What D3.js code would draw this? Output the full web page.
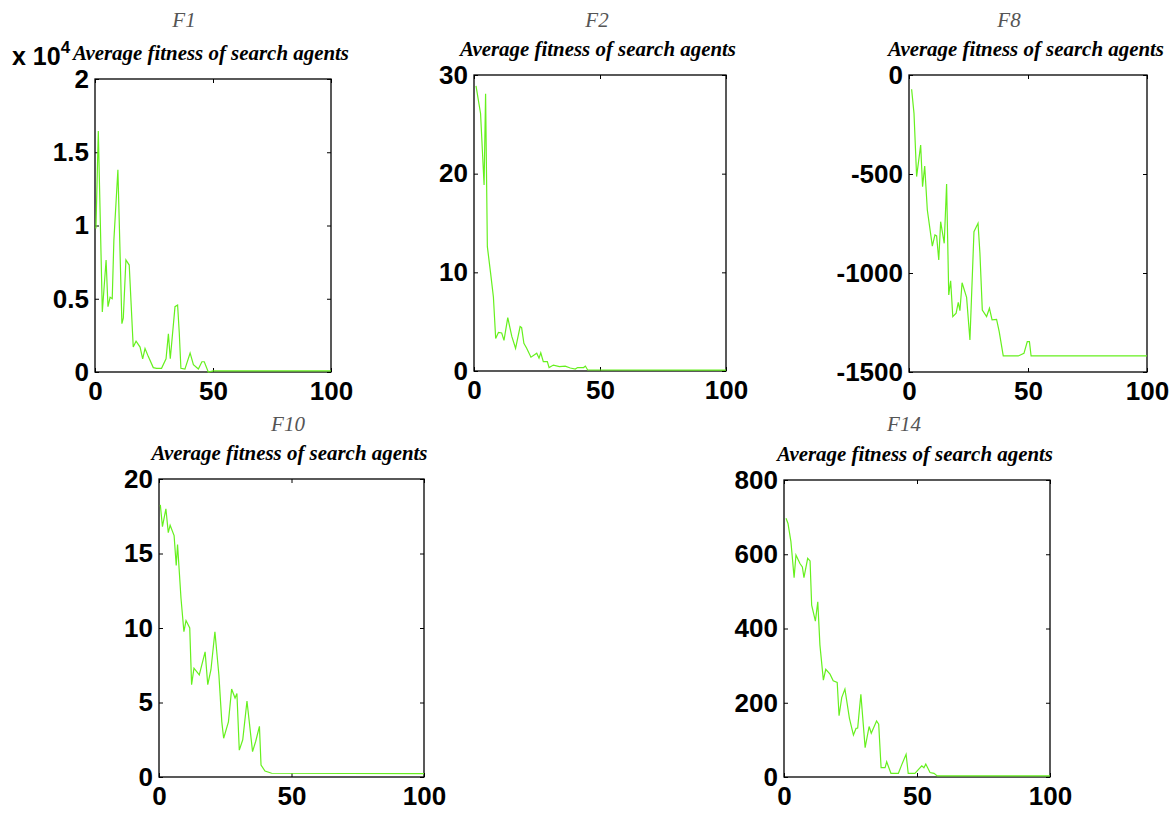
<!DOCTYPE html>
<html>
<head>
<meta charset="utf-8">
<script src="https://cdn.jsdelivr.net/npm/d3@7"></script>
<style>
  body { margin: 0; background: #fff; }
  .tick text { font-family: "Liberation Sans", Arial, sans-serif; font-weight: bold; font-size: 26px; fill: #000; }
  .tick line { stroke: #000; }
</style>
</head>
<body>
<div id="chart-area"></div>
<script>
// iterations / average fitness
const f1Iter = [0.4, 1.4, 3.1, 4.7, 5.5, 6.4, 7.3, 8.0, 9.7, 11.4, 12.0, 13.1, 14.5, 16.2, 17.4, 19.1, 20.2, 21.2, 22.6, 24.7, 26.1, 28.2, 30.1, 31.1, 31.9, 33.9, 35.0, 35.7, 36.4, 38.1, 40.3, 41.7, 43.8, 45.3, 46.3, 48.0, 50, 100]
const f1Fit = [0.98, 1.645, 0.41, 0.765, 0.446, 0.51, 0.50, 0.90, 1.38, 0.33, 0.37, 0.765, 0.73, 0.17, 0.21, 0.17, 0.09, 0.16, 0.105, 0.03, 0.025, 0.025, 0.09, 0.26, 0.09, 0.446, 0.457, 0.27, 0.025, 0.02, 0.13, 0.05, 0.02, 0.07, 0.07, 0.0, 0.008, 0.008]

const f2Iter = [0.8, 2.6, 4.0, 4.6, 5.3, 6.6, 7.7, 8.6, 9.7, 11.0, 11.9, 13.4, 15.0, 16.5, 18.3, 18.9, 19.8, 20.9, 22.6, 24.9, 25.8, 26.5, 27.5, 29.1, 29.8, 31.5, 33.9, 36.2, 38.2, 40.2, 41.1, 43.5, 44.2, 45.1, 100]
const f2Fit = [28.9, 26.1, 18.85, 28.1, 12.6, 9.9, 7.5, 3.3, 3.9, 3.85, 3.1, 5.4, 3.5, 2.3, 4.5, 4.4, 2.8, 2.3, 1.4, 1.8, 1.3, 1.85, 0.95, 0.95, 0.35, 0.6, 0.45, 0.5, 0.3, 0.2, 0.35, 0.35, 0.5, 0.1, 0.08]

const f8Iter = [1.1, 2.1, 3.2, 4.9, 5.7, 6.6, 7.7, 9.8, 10.9, 11.6, 12.5, 13.3, 14.8, 15.8, 16.7, 17.5, 18.4, 19.8, 20.7, 21.4, 22.3, 24.2, 25.6, 27.3, 29.0, 29.8, 30.8, 32.6, 33.8, 34.9, 36.8, 37.9, 39.6, 45.9, 48.3, 49.7, 50.6, 51.3, 100]
const f8Fit = [-72, -194, -513, -354, -564, -460, -682, -864, -808, -813, -934, -741, -850, -551, -1111, -1039, -1220, -1203, -1148, -1190, -1049, -1123, -1338, -791, -749, -900, -1187, -1220, -1178, -1237, -1234, -1296, -1419, -1419, -1406, -1347, -1347, -1419, -1419]

const f10Iter = [0.5, 1.3, 2.6, 3.5, 4.2, 5.7, 6.5, 7.0, 8.3, 9.4, 10.2, 11.6, 12.3, 13.2, 15.2, 17.4, 18.4, 19.6, 21.1, 22.6, 23.7, 24.4, 26.2, 27.4, 28.7, 29.4, 30.3, 31.6, 33.2, 35.3, 36.5, 37.9, 38.5, 40, 42.5, 100]
const f10Fit = [18.26, 16.8, 18.0, 16.4, 16.9, 16.2, 14.2, 15.6, 12.0, 9.75, 10.5, 10.0, 6.2, 7.3, 6.85, 8.4, 6.2, 7.2, 9.75, 6.85, 3.7, 2.6, 3.7, 5.9, 5.3, 5.6, 1.8, 2.5, 5.1, 1.7, 2.4, 3.4, 0.8, 0.4, 0.25, 0.22]

const f14Iter = [0.75, 1.5, 2.6, 3.8, 4.5, 6.0, 6.9, 7.5, 8.9, 9.8, 10.4, 11.8, 12.7, 13.5, 14.8, 15.7, 17.3, 18.5, 20.0, 20.7, 21.7, 22.9, 24.6, 26.1, 27.1, 27.7, 28.9, 30.5, 32.0, 32.8, 34.8, 35.6, 36.5, 38.0, 38.6, 40.2, 43.0, 44.2, 45.9, 46.7, 49.2, 51.8, 52.6, 53.3, 54.9, 56.4, 57.6, 100]
const f14Fit = [697, 683, 634, 537, 598, 575, 566, 537, 589, 582, 463, 420, 472, 356, 261, 290, 277, 259, 255, 165, 214, 237, 158, 113, 131, 132, 223, 79, 136, 118, 151, 142, 25, 25, 41, 10, 10, 32, 61, 10, 10, 30, 25, 35, 12, 10, 3, 3]

// tick values
const xTicks = [0, 50, 100]
const f1Ticks = [0, 0.5, 1, 1.5, 2]
const f2Ticks = [0, 10, 20, 30]
const f8Ticks = [-1500, -1000, -500, 0]
const f10Ticks = [0, 5, 10, 15, 20]
const f14Ticks = [0, 200, 400, 600, 800]

const names = ["F1", "F2", "F8", "F10", "F14"]
const subTitle = "Average fitness of search agents"

// panel layout (pixels)
const panels = [
  { name: names[0], iter: f1Iter, fit: f1Fit, ticks: f1Ticks, dom: [0, 2], L: 95, R: 331, T: 79, B: 372, fx: 184, fy: 27 },
  { name: names[1], iter: f2Iter, fit: f2Fit, ticks: f2Ticks, dom: [0, 30], L: 474, R: 726, T: 75, B: 371, fx: 597, fy: 27 },
  { name: names[2], iter: f8Iter, fit: f8Fit, ticks: f8Ticks, dom: [-1500, 0], L: 909, R: 1147, T: 75, B: 372, fx: 1009, fy: 27 },
  { name: names[3], iter: f10Iter, fit: f10Fit, ticks: f10Ticks, dom: [0, 20], L: 159, R: 424, T: 479, B: 777, fx: 288, fy: 431 },
  { name: names[4], iter: f14Iter, fit: f14Fit, ticks: f14Ticks, dom: [0, 800], L: 784, R: 1050, T: 480, B: 777, fx: 904, fy: 431 }
]

const svg = d3.select("#chart-area").append("svg")
  .attr("width", 1174)
  .attr("height", 814)

svg.append("rect")
  .attr("width", 1174)
  .attr("height", 814)
  .attr("fill", "#fff")

const TICK = 4

panels.forEach(p => {
  const x = d3.scaleLinear().domain([0, 100]).range([p.L, p.R])
  const y = d3.scaleLinear().domain(p.dom).range([p.B, p.T])
  const fmt = d => String(d)

  // bottom / left with labels, ticks pointing inward
  svg.append("g")
    .attr("transform", `translate(0, ${p.B})`)
    .call(d3.axisBottom(x).tickValues(xTicks).tickFormat(fmt).tickSizeInner(-TICK).tickSizeOuter(0).tickPadding(10))
    .call(g => g.select(".domain").remove())

  svg.append("g")
    .attr("transform", `translate(${p.L}, 0)`)
    .call(d3.axisLeft(y).tickValues(p.ticks).tickFormat(fmt).tickSizeInner(-TICK).tickSizeOuter(0).tickPadding(6))
    .call(g => g.select(".domain").remove())

  // top / right ticks only
  svg.append("g")
    .attr("transform", `translate(0, ${p.T})`)
    .call(d3.axisTop(x).tickValues(xTicks).tickFormat("").tickSizeInner(-TICK).tickSizeOuter(0))
    .call(g => g.select(".domain").remove())

  svg.append("g")
    .attr("transform", `translate(${p.R}, 0)`)
    .call(d3.axisRight(y).tickValues(p.ticks).tickFormat("").tickSizeInner(-TICK).tickSizeOuter(0))
    .call(g => g.select(".domain").remove())

  // box
  svg.append("rect")
    .attr("x", p.L)
    .attr("y", p.T)
    .attr("width", p.R - p.L)
    .attr("height", p.B - p.T)
    .attr("fill", "none")
    .attr("stroke", "#000")
    .attr("stroke-width", 1.3)

  const line = d3.line()
    .x(d => x(d[0]))
    .y(d => y(d[1]))

  svg.append("path")
    .datum(d3.zip(p.iter, p.fit))
    .attr("fill", "none")
    .attr("stroke", "#66f01e")
    .attr("stroke-width", 1.2)
    .attr("d", line)

  // titles
  svg.append("text")
    .attr("x", p.fx)
    .attr("y", p.fy)
    .attr("text-anchor", "middle")
    .attr("font-family", "Liberation Serif, serif")
    .attr("font-style", "italic")
    .attr("font-size", 21)
    .attr("fill", "#555")
    .text(p.name)

  svg.append("text")
    .attr("x", (p.L + p.R) / 2 - 2)
    .attr("y", p.T - 19)
    .attr("text-anchor", "middle")
    .attr("font-family", "Liberation Serif, serif")
    .attr("font-style", "italic")
    .attr("font-weight", "bold")
    .attr("font-size", 21)
    .attr("textLength", 276)
    .attr("lengthAdjust", "spacingAndGlyphs")
    .attr("fill", "#000")
    .text(subTitle)
})

// exponent label for F1
const expo = svg.append("text")
  .attr("x", 12)
  .attr("y", 65)
  .attr("font-family", "Liberation Sans, Arial, sans-serif")
  .attr("font-weight", "bold")
  .attr("font-size", 25)
  .attr("fill", "#000")
expo.append("tspan").text("x 10")
expo.append("tspan").attr("font-size", 17).attr("dy", -12).text("4")
</script>
</body>
</html>
